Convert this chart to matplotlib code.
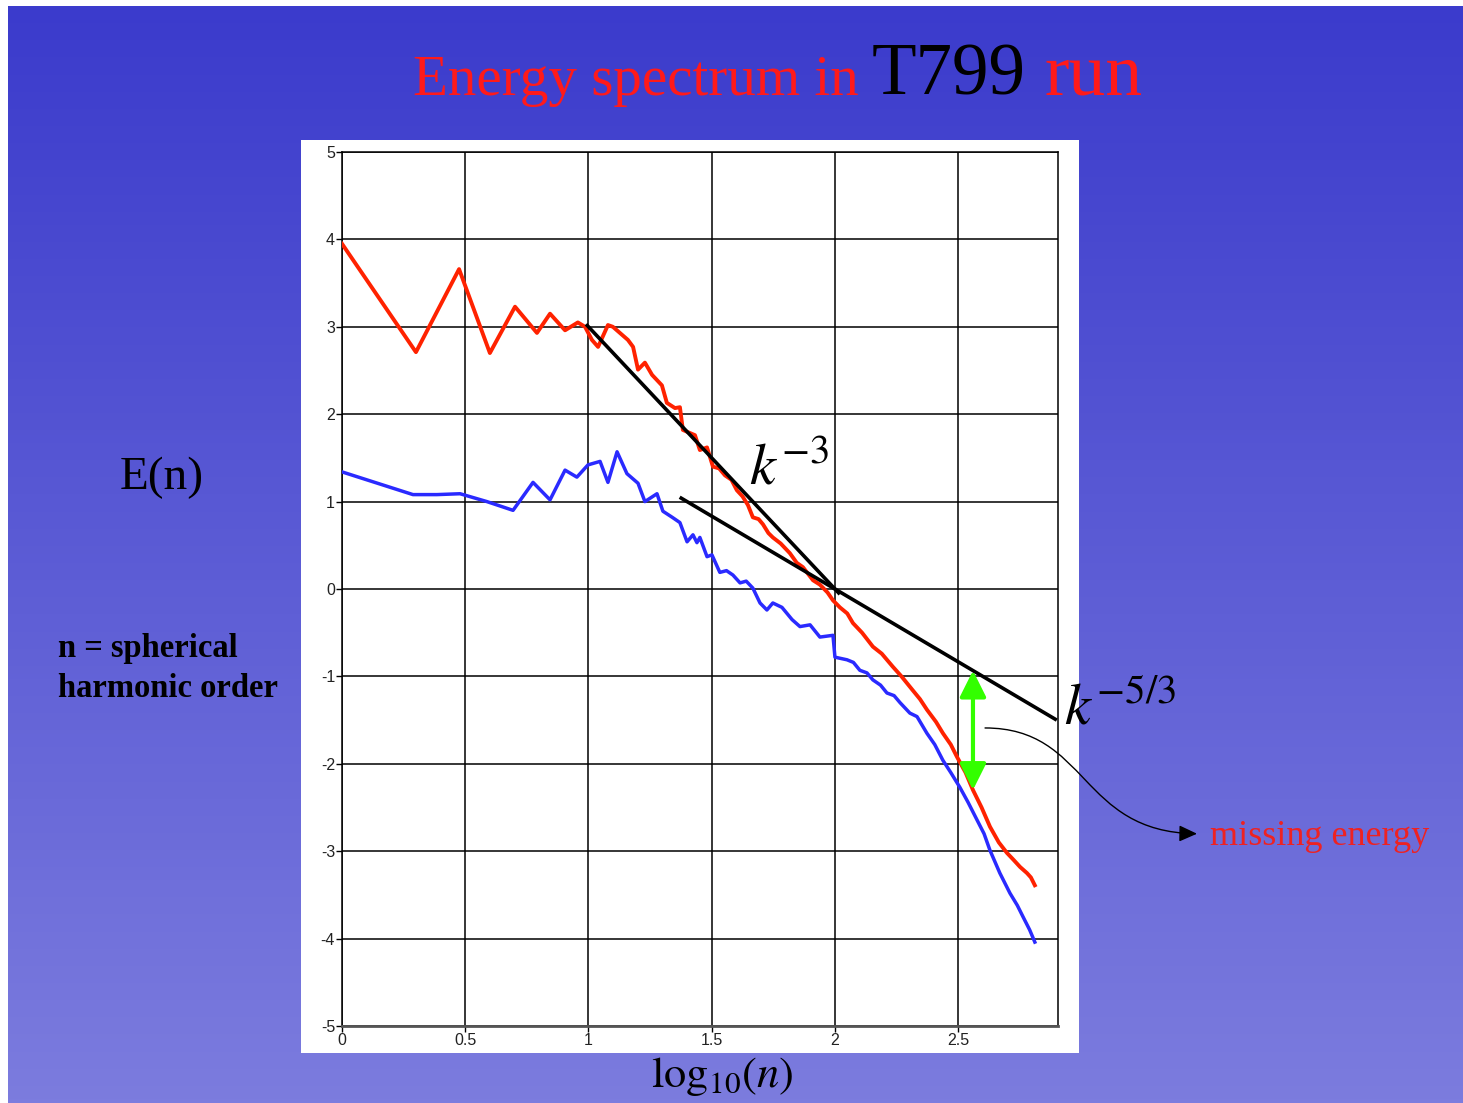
import numpy as np
import matplotlib.pyplot as plt
from matplotlib.patches import Rectangle, FancyArrowPatch
from matplotlib.path import Path

plt.rcParams['mathtext.fontset'] = 'stix'
plt.rcParams['axes.unicode_minus'] = False

W, H = 1463, 1103

# E(n) spectra against log10(n)
red_x = [0.0, 0.300, 0.475, 0.600, 0.702, 0.791, 0.844, 0.905, 0.957, 0.986,
         1.014, 1.039, 1.079, 1.099, 1.160, 1.181, 1.201, 1.229, 1.258, 1.298,
         1.318, 1.351, 1.371, 1.383, 1.432, 1.452, 1.481, 1.505, 1.530, 1.554,
         1.580, 1.602, 1.625, 1.647, 1.667, 1.690, 1.708, 1.730, 1.748, 1.780,
         1.817, 1.845, 1.870, 1.911, 1.939, 1.970, 1.992, 2.020, 2.050, 2.073,
         2.110, 2.154, 2.190, 2.235, 2.270, 2.316, 2.345, 2.373, 2.410, 2.438,
         2.470, 2.495, 2.530, 2.560, 2.595, 2.629, 2.665, 2.698, 2.725, 2.751,
         2.779, 2.795, 2.811]
red_y = [3.95, 2.71, 3.66, 2.70, 3.23, 2.93, 3.15, 2.96, 3.05, 3.00,
         2.85, 2.77, 3.02, 3.00, 2.85, 2.77, 2.51, 2.59, 2.45, 2.33,
         2.13, 2.07, 2.08, 1.82, 1.76, 1.59, 1.62, 1.40, 1.38, 1.30,
         1.25, 1.13, 1.06, 0.96, 0.82, 0.80, 0.74, 0.64, 0.59, 0.52,
         0.41, 0.30, 0.25, 0.10, 0.05, -0.04, -0.13, -0.21, -0.28, -0.39,
         -0.50, -0.66, -0.74, -0.89, -1.00, -1.16, -1.26, -1.38, -1.52, -1.65,
         -1.78, -1.92, -2.10, -2.30, -2.50, -2.72, -2.90, -3.02, -3.10, -3.18,
         -3.25, -3.30, -3.39]

blue_x = [0.0, 0.288, 0.385, 0.479, 0.588, 0.694, 0.775, 0.844, 0.905, 0.953,
          0.998, 1.047, 1.079, 1.116, 1.156, 1.201, 1.229, 1.278, 1.302, 1.340,
          1.371, 1.400, 1.424, 1.440, 1.452, 1.481, 1.501, 1.533, 1.560, 1.586,
          1.615, 1.640, 1.667, 1.696, 1.724, 1.748, 1.785, 1.826, 1.858, 1.899,
          1.939, 1.992, 2.000, 2.049, 2.075, 2.101, 2.130, 2.154, 2.185, 2.211,
          2.240, 2.264, 2.304, 2.333, 2.373, 2.405, 2.438, 2.470, 2.507, 2.540,
          2.576, 2.605, 2.629, 2.669, 2.710, 2.740, 2.763, 2.790, 2.811]
blue_y = [1.34, 1.08, 1.08, 1.09, 1.00, 0.90, 1.22, 1.02, 1.36, 1.28,
          1.42, 1.46, 1.22, 1.57, 1.32, 1.21, 1.00, 1.09, 0.89, 0.82,
          0.76, 0.54, 0.62, 0.53, 0.59, 0.37, 0.39, 0.19, 0.21, 0.16,
          0.07, 0.09, 0.01, -0.16, -0.24, -0.16, -0.21, -0.35, -0.43, -0.41,
          -0.55, -0.53, -0.78, -0.81, -0.84, -0.93, -0.96, -1.04, -1.10, -1.19,
          -1.22, -1.30, -1.42, -1.46, -1.65, -1.78, -1.96, -2.10, -2.27, -2.44,
          -2.64, -2.80, -2.99, -3.25, -3.48, -3.62, -3.75, -3.90, -4.04]

x_ticks = [0, 0.5, 1, 1.5, 2, 2.5]
x_tick_labels = ['0', '0.5', '1', '1.5', '2', '2.5']
y_ticks = list(range(-5, 6))

# power-law guide lines, both through (2, 0)
k3_x = [0.99, 2.02]
k53_x = [1.37, 2.90]
missing_x = 2.56


def fig_xy(px, py):
    return px / W, 1 - py / H


fig = plt.figure(figsize=(W / 100, H / 100), dpi=100, facecolor='white')

# slide background: vertical blue gradient
bg = fig.add_axes([8 / W, 0, 1 - 8 / W, 1 - 6 / H], zorder=-10)
grad = np.linspace(0, 1, 256)[:, None]
top = np.array([59, 59, 204]) / 255
bottom = np.array([124, 124, 222]) / 255
img = top[None, None, :] * (1 - grad[..., None]) + bottom[None, None, :] * grad[..., None]
bg.imshow(img, aspect='auto', extent=[0, 1, 0, 1])
bg.axis('off')

# white panel behind the plot
fig.patches.append(Rectangle(fig_xy(301, 1053), 778 / W, 913 / H,
                             transform=fig.transFigure, facecolor='white',
                             edgecolor='none', zorder=-5))

ax = fig.add_axes([342 / W, (H - 1026) / H, 716 / W, 874 / H])
ax.set_facecolor('white')
ax.set_xlim(0, 2.905)
ax.set_ylim(-5, 5)
ax.set_xticks(x_ticks)
ax.set_xticklabels(x_tick_labels)
ax.set_yticks(y_ticks)
ax.grid(True, color='black', lw=1.1)
for s in ax.spines.values():
    s.set_color('black')
    s.set_linewidth(1.1)
ax.spines['bottom'].set_color('#555555')
ax.spines['bottom'].set_linewidth(2)
ax.tick_params(axis='both', direction='out', length=4, width=1, color='black',
               labelsize=11.5, labelcolor='#222222', pad=1)
for lab in ax.get_xticklabels() + ax.get_yticklabels():
    lab.set_family('Liberation Sans')
ax.set_axisbelow(True)

ax.plot(red_x, red_y, color='#ff2200', lw=2.8, zorder=3)
ax.plot(blue_x, blue_y, color='#2a2aff', lw=2.5, zorder=3)

k3_y = [-3 * (x - 2) for x in k3_x]
k53_y = [-5 / 3 * (x - 2) for x in k53_x]
ax.plot(k3_x, k3_y, color='black', lw=2.6, zorder=4, solid_capstyle='butt')
ax.plot(k53_x, k53_y, color='black', lw=2.6, zorder=4, clip_on=False,
        solid_capstyle='butt')

# missing energy: from the k^-5/3 line down to the red spectrum
top_y = -5 / 3 * (missing_x - 2)
bot_y = np.interp(missing_x, red_x, red_y)
ax.add_patch(FancyArrowPatch((missing_x, top_y), (missing_x, bot_y),
                             arrowstyle='<|-|>,head_length=1.6,head_width=0.8',
                             mutation_scale=10, color='#33ff00', lw=3,
                             shrinkA=0, shrinkB=0, zorder=5))

# curved pointer to the label
verts = [(2.609, -1.59), (3.03, -1.59), (2.99, -2.78), (3.469, -2.80)]
codes = [Path.MOVETO, Path.CURVE4, Path.CURVE4, Path.CURVE4]
ax.add_patch(FancyArrowPatch(path=Path(verts, codes),
                             arrowstyle='-|>,head_length=1.1,head_width=0.5',
                             mutation_scale=10, color='black', lw=1,
                             clip_on=False, zorder=6))

serif = 'Liberation Serif'
ax.text(1.65, 1.2, r'$k^{-3}$', fontsize=42, color='black', zorder=6)
ax.text(2.93, -1.55, r'$k^{-5/3}$', fontsize=42, color='black', clip_on=False)

fig.text(*fig_xy(1210, 845), 'missing energy', color='#ee2222', fontsize=26,
         family=serif, va='baseline')

# title in mixed colours
fig.text(*fig_xy(413, 95), 'Energy spectrum in', color='#ff1a1a', fontsize=41,
         family=serif, va='baseline')
fig.text(*fig_xy(872, 95), 'T799', color='black', fontsize=52.5,
         family=serif, va='baseline')
fig.text(*fig_xy(1045, 95), 'run', color='#ff1a1a', fontsize=53,
         family=serif, va='baseline')

fig.text(*fig_xy(120, 489), 'E(n)', color='black', fontsize=34, family=serif,
         va='baseline')
fig.text(*fig_xy(58, 657), 'n = spherical', color='black', fontsize=23.5,
         family=serif, weight='bold', va='baseline')
fig.text(*fig_xy(58, 697), 'harmonic order', color='black', fontsize=23.5,
         family=serif, weight='bold', va='baseline')

fig.text(*fig_xy(722, 1087), r'$\mathrm{log}_{10}(n)$', color='black',
         fontsize=32, ha='center', va='baseline')

fig.savefig('out.png', dpi=100, facecolor='white')
